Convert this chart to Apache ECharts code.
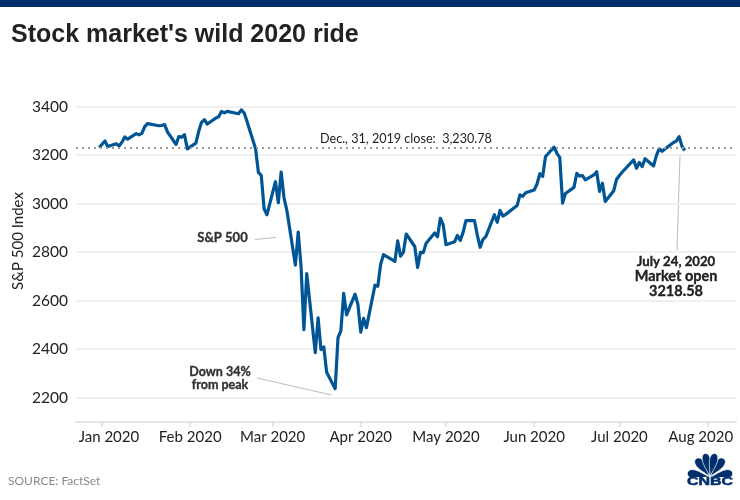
<!DOCTYPE html>
<html>
<head>
<meta charset="utf-8">
<title>Stock market's wild 2020 ride</title>
<script src="https://cdn.jsdelivr.net/npm/echarts@6/dist/echarts.min.js"></script>
<style>
    html, body { margin: 0; padding: 0; background: #fff; }
    #chart { width: 740px; height: 500px; }
</style>
</head>
<body>
<div id="chart"></div>
<script>
// trading days, first point is the Dec 31 close
const dates = [
    '2019-12-31',
    '2020-01-02', '2020-01-03', '2020-01-06', '2020-01-07', '2020-01-08', '2020-01-09', '2020-01-10', '2020-01-13', '2020-01-14', '2020-01-15', '2020-01-16', '2020-01-17', '2020-01-21', '2020-01-22', '2020-01-23', '2020-01-24', '2020-01-27', '2020-01-28', '2020-01-29', '2020-01-30', '2020-01-31',
    '2020-02-03', '2020-02-04', '2020-02-05', '2020-02-06', '2020-02-07', '2020-02-10', '2020-02-11', '2020-02-12', '2020-02-13', '2020-02-14', '2020-02-18', '2020-02-19', '2020-02-20', '2020-02-21', '2020-02-24', '2020-02-25', '2020-02-26', '2020-02-27', '2020-02-28',
    '2020-03-02', '2020-03-03', '2020-03-04', '2020-03-05', '2020-03-06', '2020-03-09', '2020-03-10', '2020-03-11', '2020-03-12', '2020-03-13', '2020-03-16', '2020-03-17', '2020-03-18', '2020-03-19', '2020-03-20', '2020-03-23', '2020-03-24', '2020-03-25', '2020-03-26', '2020-03-27', '2020-03-30', '2020-03-31',
    '2020-04-01', '2020-04-02', '2020-04-03', '2020-04-06', '2020-04-07', '2020-04-08', '2020-04-09', '2020-04-13', '2020-04-14', '2020-04-15', '2020-04-16', '2020-04-17', '2020-04-20', '2020-04-21', '2020-04-22', '2020-04-23', '2020-04-24', '2020-04-27', '2020-04-28', '2020-04-29', '2020-04-30',
    '2020-05-01', '2020-05-04', '2020-05-05', '2020-05-06', '2020-05-07', '2020-05-08', '2020-05-11', '2020-05-12', '2020-05-13', '2020-05-14', '2020-05-15', '2020-05-18', '2020-05-19', '2020-05-20', '2020-05-21', '2020-05-22', '2020-05-26', '2020-05-27', '2020-05-28', '2020-05-29',
    '2020-06-01', '2020-06-02', '2020-06-03', '2020-06-04', '2020-06-05', '2020-06-08', '2020-06-09', '2020-06-10', '2020-06-11', '2020-06-12', '2020-06-15', '2020-06-16', '2020-06-17', '2020-06-18', '2020-06-19', '2020-06-22', '2020-06-23', '2020-06-24', '2020-06-25', '2020-06-26', '2020-06-29', '2020-06-30',
    '2020-07-01', '2020-07-02', '2020-07-06', '2020-07-07', '2020-07-08', '2020-07-09', '2020-07-10', '2020-07-13', '2020-07-14', '2020-07-15', '2020-07-16', '2020-07-17', '2020-07-20', '2020-07-21', '2020-07-22', '2020-07-23', '2020-07-24'
];
const values = [
    3230.78,
    3257.85, 3234.85, 3246.28, 3237.18, 3253.05, 3274.70, 3265.35, 3288.13, 3283.15, 3289.29, 3316.81, 3329.62, 3320.79, 3321.75, 3325.54, 3295.47, 3243.63, 3276.24, 3273.40, 3283.66, 3225.52,
    3248.92, 3297.59, 3334.69, 3345.78, 3327.71, 3352.09, 3357.75, 3379.45, 3373.94, 3380.16, 3370.29, 3386.15, 3373.23, 3337.75, 3225.89, 3128.21, 3116.39, 2978.76, 2954.22,
    3090.23, 3003.37, 3130.12, 3023.94, 2972.37, 2746.56, 2882.23, 2741.38, 2480.64, 2711.02, 2386.13, 2529.19, 2398.10, 2409.39, 2304.92, 2237.40, 2447.33, 2475.56, 2630.07, 2541.47, 2626.65, 2584.59,
    2470.50, 2526.90, 2488.65, 2663.68, 2659.41, 2749.98, 2789.82, 2761.63, 2846.06, 2783.36, 2799.55, 2874.56, 2823.16, 2736.56, 2799.31, 2797.80, 2836.74, 2878.48, 2863.39, 2939.51, 2912.43,
    2830.71, 2842.74, 2868.44, 2848.42, 2881.19, 2929.80, 2930.19, 2870.12, 2820.00, 2852.50, 2863.70, 2953.91, 2922.94, 2971.61, 2948.51, 2955.45, 2991.77, 3036.13, 3029.73, 3044.31,
    3055.73, 3080.82, 3122.87, 3112.35, 3193.93, 3232.39, 3207.18, 3190.14, 3002.10, 3041.31, 3066.59, 3124.74, 3113.49, 3115.34, 3097.74, 3117.86, 3131.29, 3050.33, 3083.76, 3009.05, 3053.24, 3100.29,
    3115.86, 3130.01, 3179.72, 3145.32, 3169.94, 3152.05, 3185.04, 3155.22, 3197.52, 3226.56, 3215.57, 3224.73, 3251.84, 3257.30, 3276.02, 3235.66, 3218.58
];
const monthTicks = ['2020-01-01', '2020-02-01', '2020-03-01', '2020-04-01', '2020-05-01', '2020-06-01', '2020-07-01', '2020-08-01'];
const monthLabels = ['Jan 2020', 'Feb 2020', 'Mar 2020', 'Apr 2020', 'May 2020', 'Jun 2020', 'Jul 2020', 'Aug 2020'];
// first and last label sit a little inside their ticks
const labelDates = ['2020-01-03T10:00', '2020-02-01', '2020-03-01', '2020-04-01', '2020-05-01', '2020-06-01', '2020-07-01', '2020-07-29T14:00'];
const yTicks = [2200, 2400, 2600, 2800, 3000, 3200, 3400];
const closeValue = 3230.78;

const labelFont = 'Lato, "Open Sans", sans-serif';
const navy = '#002f6c';

function toTime(s) {
    return Date.parse(s);
}

function note(text, x, y, size, bold, align, color) {
    let c = color || '#222';
    return {
        type: 'text',
        silent: true,
        style: {
            text: text,
            x: x,
            y: y,
            fontFamily: labelFont,
            fontSize: size,
            fontWeight: bold ? 'bold' : 'normal',
            fill: c,
            // Lato bold is lighter than the original labels
            stroke: bold ? c : 'none',
            lineWidth: bold ? 0.35 : 0,
            textAlign: align || 'center',
            textVerticalAlign: 'middle'
        }
    };
}

function leader(x1, y1, x2, y2) {
    return {
        type: 'line',
        silent: true,
        shape: { x1: x1, y1: y1, x2: x2, y2: y2 },
        style: { stroke: '#bbb', lineWidth: 1 }
    };
}

// peacock feather of the logo, a teardrop fanned out from the base
function feather(angle, length, width) {
    let cx = 710, cy = 477;
    let r = angle * Math.PI / 180;
    let points = [];
    for (let i = 0; i < 40; i++) {
        let a = i / 40 * Math.PI * 2;
        let along = (1 - Math.cos(a)) / 2;
        let side = Math.sin(a) * width * Math.pow(along, 0.9);
        let up = along * length;
        points.push([cx + Math.sin(r) * up + Math.cos(r) * side, cy - Math.cos(r) * up + Math.sin(r) * side]);
    }
    return {
        type: 'polygon',
        silent: true,
        shape: { points: points },
        style: { fill: navy, stroke: '#fff', lineWidth: 0.7 }
    };
}

let myChart = echarts.init(document.querySelector('#chart'));
let option = {
    animation: false,
    backgroundColor: '#fff',
    grid: { left: 76, right: 4, top: 106.5, bottom: 78, outerBoundsMode: 'none' },
    xAxis: {
        type: 'value',
        min: toTime('2019-12-22T20:00'),
        max: toTime('2020-08-11'),
        axisLine: { show: true, lineStyle: { color: '#e6e6e6', width: 2 } },
        axisTick: {
            show: true,
            length: 5,
            lineStyle: { color: '#dedede', width: 1.5 },
            customValues: monthTicks.map(toTime)
        },
        splitLine: { show: false },
        axisLabel: {
            customValues: labelDates.map(toTime),
            hideOverlap: false,
            margin: 8,
            fontFamily: labelFont,
            fontSize: 15,
            color: '#222',
            formatter: function (value) {
                return monthLabels[labelDates.map(toTime).indexOf(value)];
            }
        }
    },
    yAxis: {
        type: 'value',
        min: 2100,
        max: 3400,
        axisLine: { show: false },
        axisTick: { show: false, customValues: yTicks },
        splitLine: { show: true, lineStyle: { color: '#f0f0f0', width: 2 } },
        axisLabel: {
            customValues: yTicks,
            margin: 8,
            fontFamily: labelFont,
            fontSize: 15.5,
            color: '#222',
            formatter: function (value) {
                return String(value);
            }
        }
    },
    series: [{
        type: 'line',
        data: dates.map((d, i) => [toTime(d), values[i]]),
        showSymbol: false,
        symbol: 'none',
        smooth: false,
        lineStyle: { color: '#005594', width: 3.2, join: 'round' },
        markLine: {
            silent: true,
            symbol: 'none',
            label: { show: false },
            lineStyle: { color: '#999', type: [2, 4], width: 2 },
            data: [{ yAxis: closeValue }]
        },
        z: 3
    }],
    graphic: [
        { type: 'rect', silent: true, shape: { x: 0, y: 0, width: 740, height: 7 }, style: { fill: navy } },
        {
            type: 'text',
            silent: true,
            style: {
                text: "Stock market's wild 2020 ride",
                x: 11,
                y: 35,
                fontFamily: '"Liberation Sans", Arial, sans-serif',
                fontSize: 25,
                fontWeight: 'bold',
                fill: '#222',
                textVerticalAlign: 'middle'
            }
        },
        {
            type: 'text',
            silent: true,
            x: 18,
            y: 241,
            rotation: Math.PI / 2,
            style: {
                text: 'S&P 500 Index',
                fontFamily: labelFont,
                fontSize: 15,
                fill: '#222',
                textAlign: 'center',
                textVerticalAlign: 'middle'
            }
        },
        note('Dec., 31, 2019 close:  3,230.78', 320, 139, 12.6, false, 'left'),
        note('S&P 500', 222.5, 238, 13, true, 'center', '#333'),
        leader(255, 239.5, 276, 237.5),
        note('Down 34%', 220, 372, 12.5, true, 'center', '#333'),
        note('from peak', 220, 385, 12.5, true, 'center', '#333'),
        leader(257, 378, 331.5, 395),
        leader(680, 155, 677, 250),
        note('July 24, 2020', 676, 262, 13.2, true),
        note('Market open', 676, 276, 14.5, true),
        note('3218.58', 676, 291, 14.5, true),
        note('SOURCE: FactSet', 8, 481, 12, false, 'left', '#8a8a8a'),
        feather(-80, 23, 6.5),
        feather(80, 23, 6.5),
        feather(-37, 23, 6.5),
        feather(37, 23, 6.5),
        feather(-12, 24, 6),
        feather(12, 24, 6),
        { type: 'rect', silent: true, shape: { x: 684, y: 477, width: 54, height: 11 }, style: { fill: '#fff' } },
        {
            type: 'text',
            silent: true,
            x: 710,
            y: 482,
            scaleX: 1.45,
            style: {
                text: 'CNBC',
                fontFamily: '"Liberation Sans", Arial, sans-serif',
                fontSize: 11,
                fontWeight: 'bold',
                fill: navy,
                stroke: navy,
                lineWidth: 0.5,
                textAlign: 'center',
                textVerticalAlign: 'middle'
            }
        }
    ]
};
myChart.setOption(option);
</script>
</body>
</html>
